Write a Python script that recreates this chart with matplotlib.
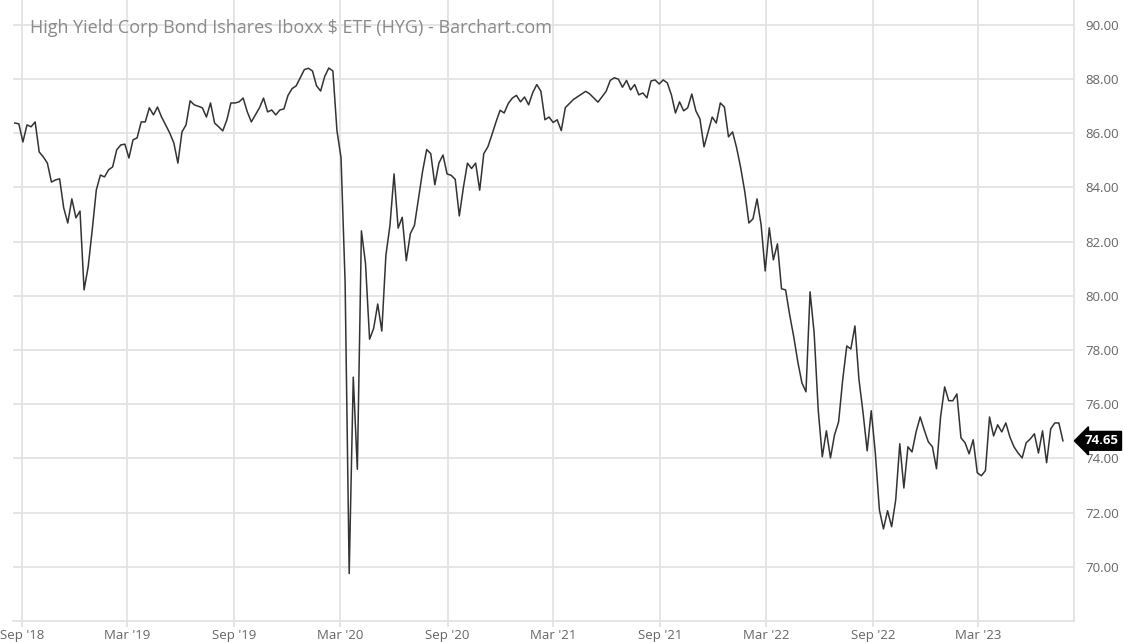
import pandas as pd
import matplotlib
matplotlib.use("Agg")
import matplotlib.pyplot as plt
import matplotlib.transforms as mtransforms

plt.rcParams['font.family'] = ['Open Sans', 'DejaVu Sans']

# weekly closes of HYG
prices = [
    86.38, 86.35, 85.68, 86.31, 86.24, 86.42, 85.31, 85.13, 84.90, 84.20,
    84.28, 84.32, 83.25, 82.69, 83.58, 82.88, 83.13, 80.22, 81.07, 82.44,
    83.91, 84.46, 84.39, 84.65, 84.76, 85.39, 85.57, 85.60, 85.09, 85.76,
    85.83, 86.42, 86.42, 86.94, 86.68, 86.97, 86.60, 86.31, 86.01, 85.65,
    84.90, 86.05, 86.31, 87.20,
    87.05, 87.00, 86.94, 86.60, 87.12, 86.38, 86.24, 86.09, 86.49, 87.12,
    87.12, 87.16, 87.30, 86.80, 86.42, 86.68, 86.94, 87.30, 86.79,
    86.86, 86.68, 86.86, 86.90, 87.40,
    87.65, 87.75, 88.05, 88.35, 88.40, 88.30, 87.75, 87.56, 88.10, 88.41,
    88.30, 86.10, 85.10, 80.50, 69.75, 77.00, 73.60, 82.40, 81.20, 78.40,
    78.80, 79.70, 78.70, 81.50, 82.60, 84.50, 82.50, 82.90, 81.30, 82.30,
    82.60, 83.60, 84.60, 85.40, 85.25, 84.10, 84.90, 85.20, 84.50, 84.45,
    84.30, 82.95, 84.00, 84.90, 84.70, 84.90, 83.90, 85.25, 85.50, 85.95,
    86.42, 86.85, 86.75, 87.10, 87.30, 87.40, 87.16, 87.34, 87.05,
    87.50, 87.80, 87.55, 86.50, 86.60, 86.40, 86.50, 86.10, 86.95, 87.10,
    87.25, 87.35, 87.45, 87.55, 87.45, 87.30, 87.15, 87.35, 87.55,
    87.95, 88.05, 88.00, 87.70, 87.95, 87.60, 87.80, 87.42, 87.49, 87.31,
    87.93, 87.97, 87.82, 87.97, 87.86, 87.42, 86.75, 87.16, 86.83, 86.94,
    87.45, 86.83, 86.53, 85.50, 86.05, 86.60, 86.38, 87.12, 86.97, 85.87,
    86.05, 85.46, 84.72, 83.84, 82.69, 82.84, 83.58, 82.62, 80.92, 82.51,
    81.33, 81.92, 80.26, 80.22, 79.30, 78.49, 77.56, 76.79, 76.46, 80.15,
    78.63, 75.79, 74.06, 75.02, 74.02, 74.87, 75.35,
    76.90, 78.15, 78.04, 78.89, 76.90, 75.68, 74.28, 75.76, 74.20, 72.10,
    71.40, 72.07, 71.48, 72.47, 74.54, 72.91, 74.43, 74.24, 74.98, 75.53,
    75.05, 74.61, 74.43, 73.62, 75.53, 76.64, 76.13, 76.13, 76.38, 74.76,
    74.58, 74.17, 74.69, 73.47, 73.36, 73.55, 75.53, 74.83, 75.24, 74.98,
    75.31, 74.79, 74.43, 74.20, 74.02, 74.58, 74.72, 74.91, 74.20, 75.02,
    73.84, 75.09, 75.31, 75.31, 74.65,
]
dates = pd.date_range(end="2023-07-24", periods=len(prices), freq="7D")
last_price = prices[-1]

title = "High Yield Corp Bond Ishares Iboxx $ ETF (HYG) - Barchart.com"
x_ticks = pd.to_datetime(["2018-09-01", "2019-03-01", "2019-09-01", "2020-03-01",
                          "2020-09-01", "2021-03-01", "2021-09-01", "2022-03-01",
                          "2022-09-01", "2023-03-01"])
x_labels = ["Sep '18", "Mar '19", "Sep '19", "Mar '20", "Sep '20",
            "Mar '21", "Sep '21", "Mar '22", "Sep '22", "Mar '23"]
y_ticks = [70, 72, 74, 76, 78, 80, 82, 84, 86, 88, 90]

fig = plt.figure(figsize=(11.23, 6.43), dpi=100)
ax = fig.add_axes([13 / 1123, 22 / 643, (1074 - 13) / 1123, 621 / 643])

ax.plot(dates, prices, color="#333333", lw=1.1)

ax.set_xlim(pd.Timestamp("2018-08-17"), pd.Timestamp("2023-08-12"))
ax.set_ylim(68.0, 90.92)

grid_c = "#e3e3e3"
ax.set_xticks(x_ticks)
ax.set_xticklabels(x_labels)
ax.set_yticks(y_ticks)
ax.set_yticklabels(["%.2f" % v for v in y_ticks])
ax.yaxis.tick_right()
ax.grid(True, color=grid_c, lw=1.3)
ax.tick_params(axis="x", length=4, width=1.3, color=grid_c,
               labelsize=9.5, pad=1.5, labelcolor="#666666")
ax.tick_params(axis="y", length=0, labelsize=9.5, pad=8, labelcolor="#666666")
for s in ["left", "top"]:
    ax.spines[s].set_visible(False)
for s in ["right", "bottom"]:
    ax.spines[s].set_color(grid_c)
    ax.spines[s].set_linewidth(1.3)

ax.text(0.016, 0.955, title, transform=ax.transAxes, fontsize=13,
        color="#8a8a8a", va="center", ha="left")

# last price tag
trans = mtransforms.blended_transform_factory(ax.transAxes, ax.transData)
ax.text(1.01, last_price, "%.2f" % last_price, transform=trans, fontsize=9.5,
        fontweight="bold", color="white", va="center", ha="left",
        bbox=dict(boxstyle="larrow,pad=0.22", fc="black", ec="black"),
        clip_on=False)

fig.savefig("out.png", dpi=100)
